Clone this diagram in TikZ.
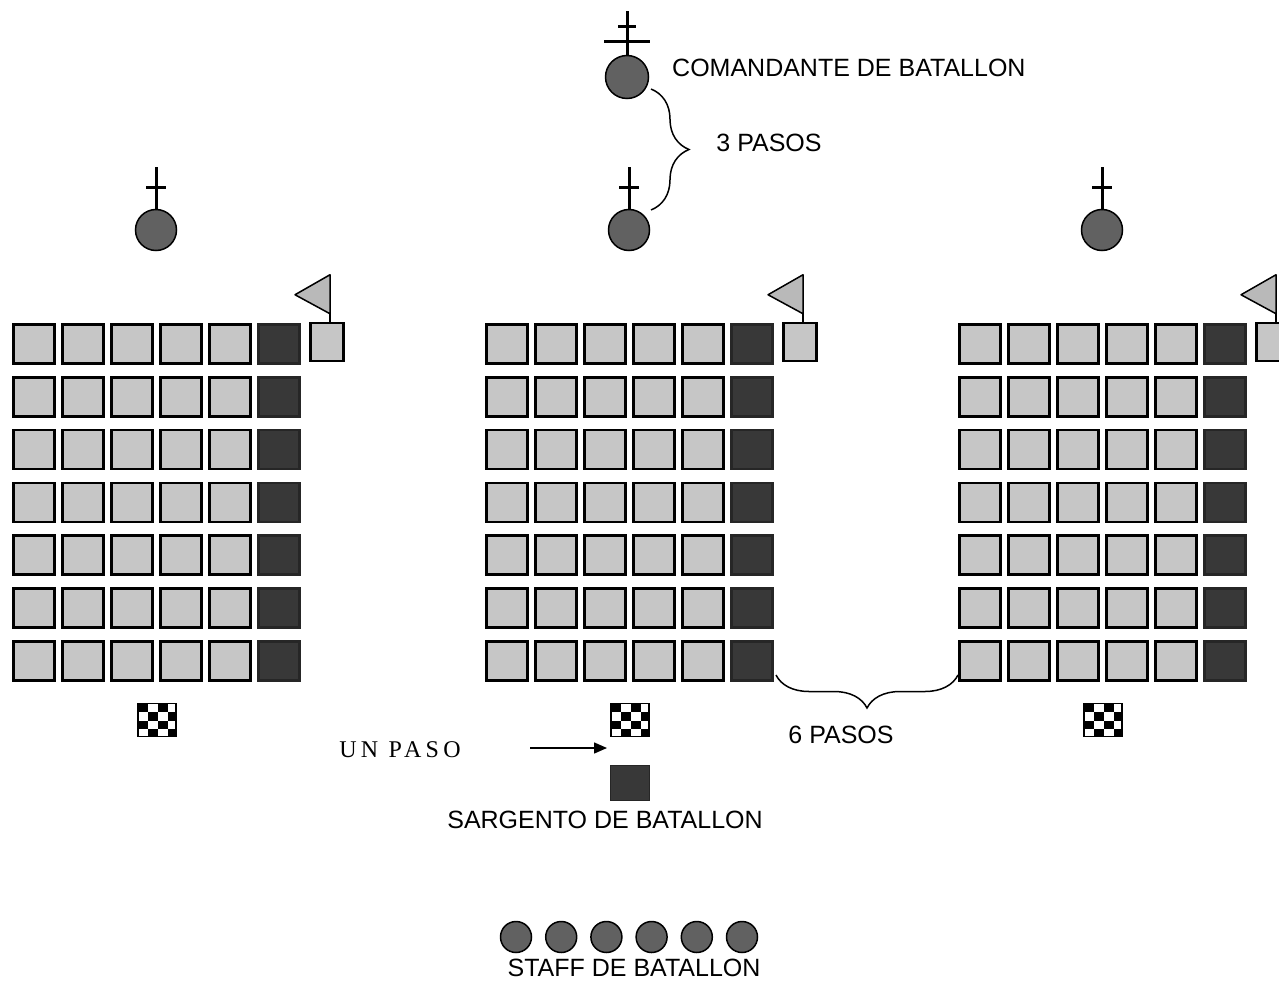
\documentclass[tikz,border=0pt]{standalone}
\usepackage{fontspec}
\setmainfont{Liberation Sans}
\newfontfamily\pasofont[LetterSpace=18]{Liberation Serif}
\usetikzlibrary{calc, positioning}
\usetikzlibrary{arrows.meta}
\usetikzlibrary{decorations.pathreplacing}

\begin{document}
\begin{tikzpicture}[x=1pt, y=-1pt,
  soldier/.style={draw=black, line width=2.5pt, fill=gray!45, minimum width=41pt, minimum height=39pt, inner sep=0pt},
  corporal/.style={soldier, fill=black!78, draw=black!85},
  guide/.style={soldier, minimum width=33pt, minimum height=38pt},
  officer/.style={circle, draw=black, line width=1.5pt, fill=black!62, minimum size=41pt, inner sep=0pt},
  staff/.style={officer, minimum size=31pt},
  drum/.style={draw=black, line width=1.5pt, fill=white, minimum width=38pt, minimum height=33pt, inner sep=0pt,
    path picture={\foreach \i/\j in {0/0,2/0,1/1,3/1,0/2,2/2,1/3,3/3}
      \fill[black] ($(path picture bounding box.north west)+(10*\i,8.5*\j)$) rectangle ++(10,8.5);}},
  label/.style={font=\fontsize{25}{29}\selectfont, inner sep=0pt},
  crossline/.style={line width=3pt},
  flagcloth/.style={draw=black, line width=1.5pt, fill=gray!55, line join=round},
  bracket/.style={decorate, line width=1.5pt},
]
\useasboundingbox (0,0) rectangle (1279,987);

% three companies
\foreach \b in {0,1,2} {
  \foreach \r in {1,...,7} {
    \foreach \c in {1,...,5}
      \node[soldier] (s\b-\r-\c) at ({34+473*\b+49*(\c-1)},{344+52.8*(\r-1)}) {};
    \node[corporal] (s\b-\r-6) at ({34+473*\b+245},{344+52.8*(\r-1)}) {};
  }
  % guide with flag
  \node[guide] (guia\b) at ({327+473*\b},342) {};
  \coordinate (asta\b) at ($(guia\b.north)+(3,-47)$);
  \draw[line width=2pt] (guia\b.north -| asta\b) -- (asta\b);
  \draw[flagcloth] (asta\b) -- ++(-35,20) -- ++(35,19) -- cycle;
  % company commander
  \node[officer] (jefe\b) at ({156+473*\b},230) {};
  \draw[crossline] (jefe\b.north) -- ++(0,-42);
  \draw[crossline] ($(jefe\b.north)+(-10,-21)$) -- ++(20,0);
  % drummer
  \node[drum] (tambor\b) at ({157+473*\b},720) {};
}

% battalion commander
\node[officer, minimum size=43pt] (comandante) at (627,77) {};
\draw[crossline] (comandante.north) -- ++(0,-44);
\draw[crossline] ($(comandante.north)+(-23,-13)$) -- ++(46,0);
\draw[crossline] ($(comandante.north)+(-9,-28)$) -- ++(18,0);
\node[label, anchor=west] (comtxt) at (672,68) {COMANDANTE DE BATALLON};

\coordinate (tresA) at (651,89);
\coordinate (tresB) at (651,210);
\draw[bracket, decoration={brace, amplitude=38pt}] (tresA) -- (tresB);
\node[label] (trestxt) at (769,143) {3 PASOS};

\coordinate (seisA) at (958,675);
\coordinate (seisB) at (776,675);
\draw[bracket, decoration={brace, amplitude=33pt}] (seisA) -- (seisB);
\node[label] (seistxt) at (841,735) {6 PASOS};

% sergeant
\node[corporal, line width=1pt, minimum width=39pt, minimum height=35pt] (sargento) at (630,783) {};
\node[label] (sargtxt) at (605,820) {SARGENTO DE BATALLON};

\node[font=\pasofont\fontsize{24}{28}\selectfont, inner sep=0pt] (unpaso) at (400,750) {UN PASO};
\coordinate (flechaA) at (530,748);
\coordinate (flechaB) at (607,748);
\draw[-{Triangle[length=13pt,width=11pt]}, line width=1.5pt] (flechaA) -- (flechaB);

% staff
\foreach \k in {0,...,5}
  \node[staff] (staff\k) at ({516+45.2*\k},937) {};
\node[label] (stafftxt) at (634,968) {STAFF DE BATALLON};
\end{tikzpicture}
\end{document}
